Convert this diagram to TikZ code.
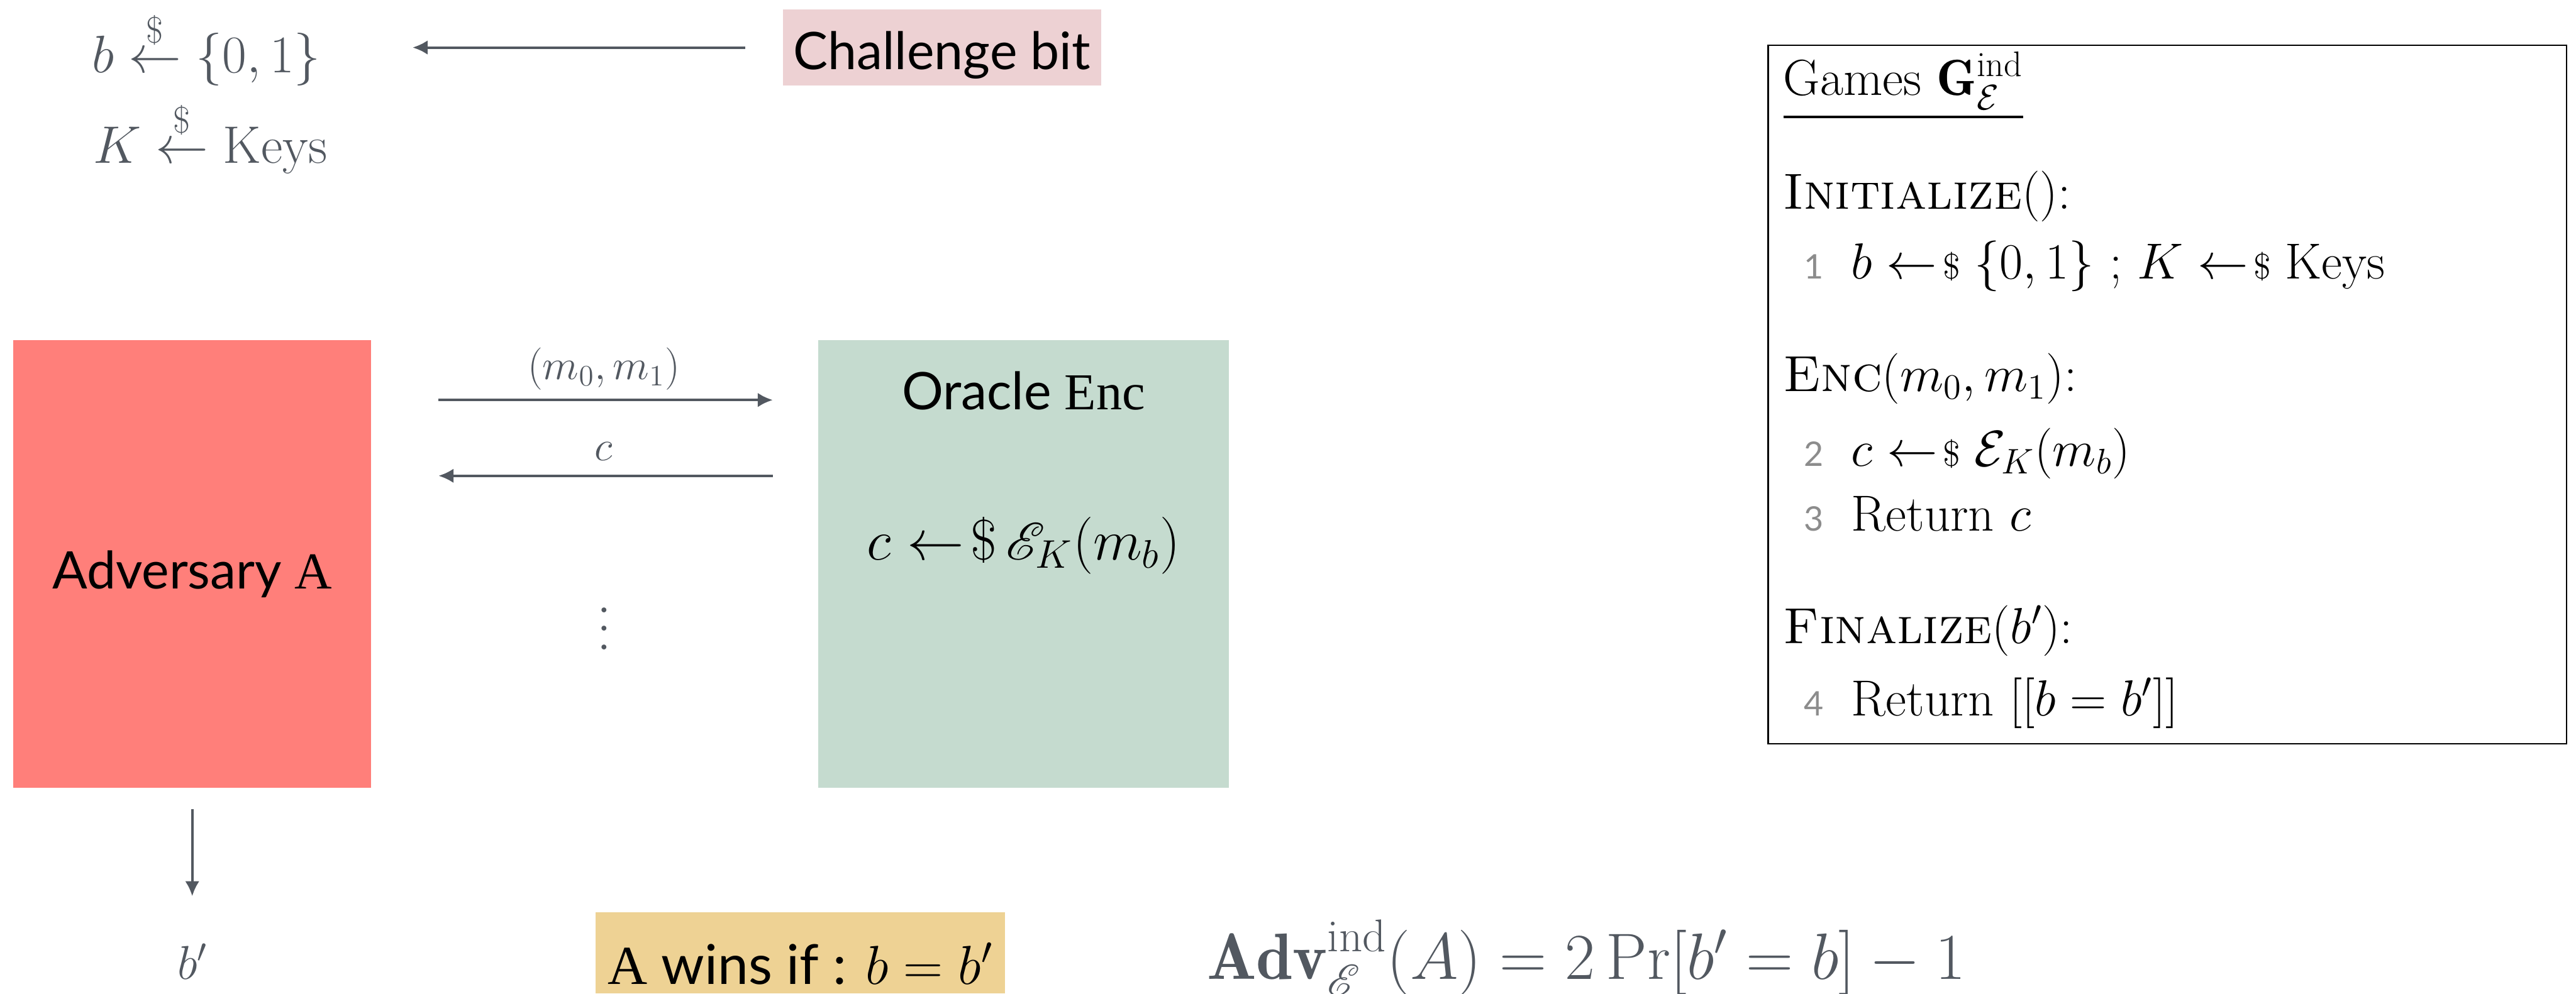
\documentclass[tikz,border=0pt]{standalone}
\usepackage{fix-cm}
\usepackage{amsmath}
\usepackage{mathrsfs}
\usepackage{fontspec}
\setsansfont{Lato}
\newfontfamily\tms{Liberation Serif}
\usetikzlibrary{arrows.meta,positioning}
\definecolor{slate}{RGB}{82,88,96}
\definecolor{advred}{RGB}{255,127,122}
\definecolor{orcgreen}{RGB}{197,219,207}
\definecolor{chalpink}{RGB}{237,209,211}
\definecolor{winyellow}{RGB}{238,210,148}
\definecolor{lnumgray}{RGB}{140,140,140}
\newcommand{\getsr}{\mathrel{\leftarrow\!{\scriptstyle\$}}}
\newcommand{\lnum}[1]{\makebox[7.9mm][l]{\color{lnumgray}\sffamily\fontsize{16}{16}\selectfont #1}}

\begin{document}
\begin{tikzpicture}[>={Latex[length=2.5mm,width=2.4mm]},
  sanstext/.style={font=\sffamily\fontsize{24.5}{29}\selectfont},
  greymath/.style={text=slate,inner sep=0,font=\fontsize{25}{30}\selectfont},
  gameline/.style={anchor=base west,inner sep=0,font=\fontsize{24}{29}\selectfont},
  flow/.style={->,draw=slate,line width=1.2pt}]
\useasboundingbox (0,0) rectangle (42.81,16.52);

\node[greymath,anchor=base west] (bdraw) at (1.52,15.31) {$b \overset{\$}{\leftarrow} \{0,1\}$};
\node[greymath,anchor=base west] (kdraw) at (1.54,13.81) {$K \overset{\$}{\leftarrow} \mathrm{Keys}$};
\node[sanstext,fill=chalpink,minimum width=5.29cm,minimum height=1.26cm,inner sep=0,
  text height=7.2mm,text depth=0pt] (chal) at (15.655,15.73) {Challenge bit};
\draw[flow,shorten <=6.2mm,shorten >=15.2mm] (chal.west) -- (chal.west -| bdraw.east);

\node[sanstext,fill=advred,minimum width=5.95cm,minimum height=7.45cm,
  text height=8.3mm,text depth=0pt] (adv) at (3.195,7.145) {Adversary {\tms A}};
\node[fill=orcgreen,minimum width=6.82cm,minimum height=7.45cm] (orc) at (17.01,7.145) {};
\node[sanstext,anchor=base] (orcname) at ([yshift=-11.7mm]orc.north) {Oracle {\tms Enc}};
\node[anchor=base,font=\fontsize{27}{32}\selectfont] (orcbody) at ([yshift=-36.6mm]orc.north)
  {$c \leftarrow\!\$\, \mathscr{E}_K(m_b)$};

\draw[flow,shorten <=11.1mm,shorten >=7.5mm] ([yshift=27.25mm]adv.east) -- ([yshift=27.25mm]orc.west)
  node[greymath,pos=.52,above=1.5mm,font=\fontsize{20}{24}\selectfont] (msg) {$(m_0,m_1)$};
\draw[flow,<-,shorten <=11.1mm,shorten >=7.5mm] ([yshift=14.65mm]adv.east) -- ([yshift=14.65mm]orc.west)
  node[greymath,pos=.52,above=2.3mm,font=\fontsize{20}{24}\selectfont] (reply) {$c$};
\node[text=slate] (more) at (10.04,6.3) {\scalebox{2.2}{$\vdots$}};

\node[greymath,anchor=base,font=\fontsize{22.5}{27}\selectfont] (bout) at (3.2,0.24) {$b'$};
\draw[flow,shorten <=3.4mm,shorten >=7.8mm] (adv.south) -- (adv.south |- bout.north);

\node[fill=winyellow,anchor=south,minimum width=6.8cm,minimum height=1.35cm,inner sep=0,
  text height=10.5mm,text depth=0pt,font=\sffamily\fontsize{26}{31}\selectfont] (wins) at (13.30,0)
  {{\tms A} wins if : $b = b'$};
\node[greymath,anchor=base west,font=\fontsize{31}{36}\selectfont] (advformula) at (20.05,0.24)
  {$\mathbf{Adv}^{\mathrm{ind}}_{\mathscr{E}}(A) = 2\Pr[b' = b] - 1$};

\node[draw,line width=0.8pt,anchor=north west,minimum width=13.27cm,minimum height=11.61cm] (game) at (29.37,15.78) {};
\node[gameline] (gtitle) at (29.63,14.94) {\underline{Games $\mathbf{G}^{\mathrm{ind}}_{\mathcal{E}}$}};
\node[gameline] (ginit) at (29.63,13.04) {\textsc{Initialize}():};
\node[gameline] (gl1) at (29.97,11.88) {\lnum{1}$b \getsr \{0,1\}$ ; $K \getsr \mathrm{Keys}$};
\node[gameline] (genc) at (29.63,10.01) {\textsc{Enc}$(m_0,m_1)$:};
\node[gameline] (gl2) at (29.97,8.77) {\lnum{2}$c \getsr \mathcal{E}_K(m_b)$};
\node[gameline] (gl3) at (29.97,7.69) {\lnum{3}Return $c$};
\node[gameline] (gfin) at (29.63,5.82) {\textsc{Finalize}$(b')$:};
\node[gameline] (gl4) at (29.97,4.62) {\lnum{4}Return $[[b = b']]$};
\end{tikzpicture}
\end{document}
